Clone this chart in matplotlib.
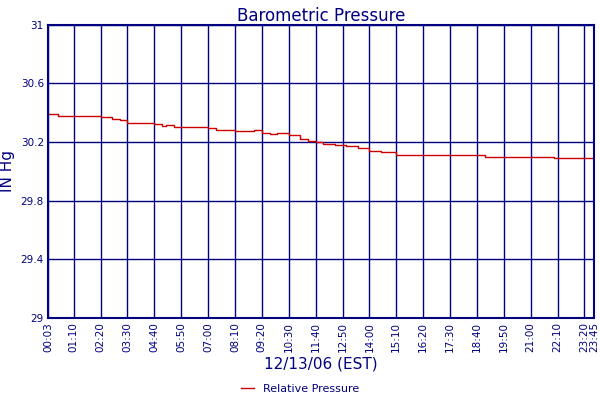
import matplotlib
matplotlib.use("Agg")
import matplotlib.pyplot as plt

times = ["00:03","00:30","01:10","02:20","02:50","03:10","03:30","04:40","05:00","05:10","05:30",
         "07:00","07:20","08:10","09:00","09:20","09:40","10:00","10:30","11:00","11:20","11:40",
         "12:00","12:30","13:00","13:30","14:00","14:30","15:10","16:20","17:00","18:40","19:00",
         "20:00","21:00","22:00","22:40","23:45"]
pressure = [30.39,30.38,30.375,30.37,30.36,30.35,30.33,30.32,30.31,30.315,30.30,
            30.295,30.28,30.275,30.28,30.265,30.255,30.26,30.245,30.22,30.205,30.20,
            30.185,30.18,30.17,30.16,30.14,30.135,30.115,30.11,30.11,30.115,30.10,
            30.095,30.095,30.09,30.09,30.085]
tick_labels = ["00:03","01:10","02:20","03:30","04:40","05:50","07:00","08:10","09:20","10:30",
               "11:40","12:50","14:00","15:10","16:20","17:30","18:40","19:50","21:00","22:10",
               "23:20","23:45"]
yticks = [29, 29.4, 29.8, 30.2, 30.6, 31]

def mins(s):
    h, m = s.split(":")
    return int(h) * 60 + int(m)

navy = "#000080"
fig = plt.figure(figsize=(6, 4), dpi=100)
ax = fig.add_axes([0.08, 0.205, 0.91, 0.733])
ax.plot([mins(t) for t in times], pressure, color="#cc0000", lw=1.0,
        drawstyle="steps-post", label="Relative Pressure")
ax.set_xlim(mins("00:03"), mins("23:45"))
ax.set_ylim(29, 31)
ax.set_xticks([mins(t) for t in tick_labels])
ax.set_xticklabels(tick_labels, rotation=90, fontsize=7.5, color=navy)
ax.set_yticks(yticks)
ax.set_yticklabels([f"{v:g}" for v in yticks], fontsize=7.5, color=navy)
ax.tick_params(length=0, pad=3)
ax.grid(True, color=navy, lw=1)
for s in ax.spines.values():
    s.set_color(navy)
    s.set_linewidth(1.5)
ax.set_title("Barometric Pressure", color=navy, fontsize=12, pad=3)
ax.set_ylabel("IN Hg", color=navy, fontsize=11)
ax.set_xlabel("12/13/06 (EST)", color=navy, fontsize=11, labelpad=3)
fig.legend(loc="lower center", bbox_to_anchor=(0.5, -0.01), frameon=False,
           fontsize=8, labelcolor=navy, handlelength=1.2)
fig.savefig("out.png")
